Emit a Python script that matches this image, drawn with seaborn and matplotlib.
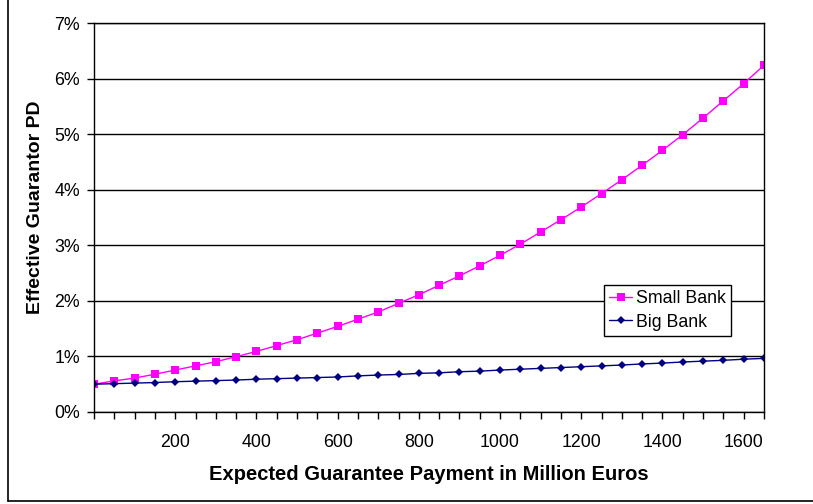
import numpy as np
import pandas as pd
import matplotlib
matplotlib.use("Agg")
import matplotlib.pyplot as plt
from matplotlib.lines import Line2D
from matplotlib.ticker import MultipleLocator, FixedLocator
import seaborn as sns

payment = [0, 50, 100, 150, 200, 250, 300, 350, 400, 450, 500, 550, 600, 650,
           700, 750, 800, 850, 900, 950, 1000, 1050, 1100, 1150, 1200, 1250,
           1300, 1350, 1400, 1450, 1500, 1550, 1600, 1650]
small_bank = [0.50, 0.56, 0.61, 0.68, 0.755, 0.83, 0.905, 0.995, 1.09, 1.195, 1.30,
              1.42, 1.54, 1.67, 1.80, 1.955, 2.11, 2.28, 2.45, 2.63, 2.82, 3.02,
              3.24, 3.46, 3.69, 3.93, 4.18, 4.44, 4.71, 4.99, 5.29, 5.60, 5.91, 6.24]
big_bank = [0.50, 0.51, 0.52, 0.53, 0.545, 0.555, 0.565, 0.575, 0.59, 0.60, 0.61,
            0.62, 0.63, 0.65, 0.665, 0.675, 0.695, 0.705, 0.725, 0.735, 0.755, 0.77,
            0.785, 0.80, 0.815, 0.83, 0.845, 0.865, 0.88, 0.90, 0.915, 0.93, 0.95, 0.965]
series_names = ["Small Bank", "Big Bank"]
x_tick_labels = [200, 400, 600, 800, 1000, 1200, 1400, 1600]
y_ticks = [0, 1, 2, 3, 4, 5, 6, 7]

df = pd.concat([
    pd.DataFrame({"x": payment, "y": small_bank, "series": series_names[0]}),
    pd.DataFrame({"x": payment, "y": big_bank, "series": series_names[1]}),
])

sns.set_style("white")
plt.rcParams["font.family"] = ["Liberation Sans", "DejaVu Sans"]
plt.rcParams["text.color"] = "black"
plt.rcParams["axes.labelcolor"] = "black"
plt.rcParams["xtick.color"] = "black"
plt.rcParams["ytick.color"] = "black"

fig = plt.figure(figsize=(8.13, 5.04), dpi=100)
ax = fig.add_axes([94 / 813, (504 - 412) / 504, (764 - 94) / 813, (412 - 23) / 504])

palette = {"Small Bank": "#FF00FF", "Big Bank": "#000080"}
markers = {"Small Bank": "s", "Big Bank": "D"}
sns.lineplot(data=df, x="x", y="y", hue="series", style="series",
             palette=palette, markers=markers, dashes=False, ax=ax,
             linewidth=1.0, markersize=5.5, markeredgewidth=0, legend=False)
for line in ax.lines:
    if line.get_marker() == "D":
        line.set_markersize(4.5)

ax.set_xlim(0, 1650)
ax.set_ylim(0, 7)
ax.yaxis.set_major_locator(FixedLocator(y_ticks))
ax.set_yticklabels([f"{v}%" for v in y_ticks])
ax.xaxis.set_major_locator(FixedLocator(x_tick_labels))
ax.set_xticklabels([str(v) for v in x_tick_labels])
ax.xaxis.set_minor_locator(MultipleLocator(50))
ax.tick_params(axis="x", which="both", direction="out", length=5, width=1, color="black",
               labelcolor="black", labelsize=12.8, pad=11, bottom=True)
ax.tick_params(axis="y", which="major", direction="out", length=5, width=1, color="black",
               labelcolor="black", labelsize=12.8, pad=5, left=True)
ax.grid(axis="y", color="black", linewidth=1.0)
ax.grid(axis="x", visible=False)
for s in ax.spines.values():
    s.set_color("black")
    s.set_linewidth(1.0)

ax.set_xlabel("Expected Guarantee Payment in Million Euros", fontsize=14.5,
              fontweight="bold", labelpad=10, color="black")
ax.set_ylabel("Effective Guarantor PD", fontsize=14, fontweight="bold", color="black")
ax.yaxis.set_label_coords((44 - 94) / 670, (412 - 207) / 389)

handles = [Line2D([], [], color=palette[n], marker=markers[n], lw=1.0,
                  markersize=5.5 if n == "Small Bank" else 4.5, markeredgewidth=0)
           for n in series_names]
leg = ax.legend(handles, series_names, loc="upper left",
                bbox_to_anchor=((604 - 94) / 670, (412 - 285) / 389),
                frameon=True, fancybox=False, fontsize=12.8, handlelength=1.3,
                handletextpad=0.2, borderpad=0.3, labelspacing=0.35,
                borderaxespad=0)
leg.get_frame().set_edgecolor("black")
leg.get_frame().set_linewidth(1.0)
leg.get_frame().set_alpha(1)
for t in leg.get_texts():
    t.set_color("black")

# outer chart border
fig.add_artist(Line2D([8 / 813, 8 / 813], [3 / 504, 1.0], color="black", lw=1.2,
                      transform=fig.transFigure))
fig.add_artist(Line2D([8 / 813, 1.0], [3 / 504, 3 / 504], color="black", lw=1.2,
                      transform=fig.transFigure))

fig.savefig("out.png", dpi=100)
